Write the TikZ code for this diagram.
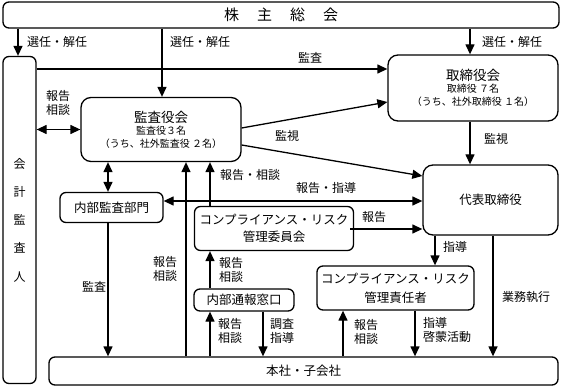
\documentclass[tikz,border=0pt]{standalone}
\usepackage{fontspec}
\setmainfont{Noto Sans CJK JP}
\usetikzlibrary{arrows.meta}
\begin{document}
\begin{tikzpicture}[x=1pt,y=-1pt,
  box/.style={draw, line width=1.3pt, rounded corners=6pt, inner sep=0pt, align=center, font=\fontsize{12.5}{17}\selectfont},
  bigbox/.style={box, rounded corners=10pt},
  lab/.style={font=\fontsize{12}{14}\selectfont, align=left, inner sep=0pt},
  ttl/.style={font=\fontsize{13.5}{14}\selectfont, inner sep=0pt},
  sub/.style={font=\fontsize{10}{12}\selectfont, inner sep=0pt},
  arr/.style={line width=1.3pt, -{Triangle[length=10pt,width=9pt]}},
  darr/.style={line width=1.3pt, {Triangle[length=10pt,width=9pt]}-{Triangle[length=10pt,width=9pt]}},
  ln/.style={line width=1.3pt}]
\useasboundingbox (0,0) rectangle (567,387);

% boxes
\node[box, minimum width=556pt, minimum height=26pt, font=\fontsize{15}{15}\selectfont] (sh) at (281,15) {株\hspace{18pt}主\hspace{18pt}総\hspace{18pt}会};
\node[box, minimum width=33pt, minimum height=327pt, font=\fontsize{12}{28.3}\selectfont] (ka) at (19.5,220) {会\\計\\監\\査\\人};
\node[bigbox, minimum width=160pt, minimum height=64pt] (kan) at (161,129.5) {};
\node[ttl] (kanT) at (161,117) {監査役会};
\node[sub] (kanS) at (161,131) {監査役３名};
\node[sub] (kanU) at (161,144) {（うち、社外監査役 ２名）};
\node[bigbox, minimum width=170pt, minimum height=66pt] (tori) at (473,88) {};
\node[ttl] (toriT) at (473,75) {取締役会};
\node[sub] (toriS) at (473,89) {取締役 ７名};
\node[sub] (toriU) at (473,102) {（うち、社外取締役 １名）};
\node[bigbox, minimum width=135pt, minimum height=70pt] (dai) at (490.5,200) {代表取締役};
\node[box, minimum width=103pt, minimum height=30pt] (nai) at (111.5,207.5) {内部監査部門};
\node[box, minimum width=159pt, minimum height=44pt] (iin) at (274,228.5) {コンプライアンス・リスク\\管理委員会};
\node[box, minimum width=100pt, minimum height=22pt] (mado) at (244,300) {内部通報窓口};
\node[box, minimum width=157pt, minimum height=44pt, font=\fontsize{12.5}{19}\selectfont] (seki) at (395.5,288) {コンプライアンス・リスク\\管理責任者};
\node[box, minimum width=509pt, minimum height=28pt] (hon) at (303.5,371) {本社・子会社};

% helper coordinates
\coordinate (y69) at (0,69);
\coordinate (y102) at (0,102);
\coordinate (y128) at (0,128);
\coordinate (y145) at (0,145);
\coordinate (y176) at (0,176);
\coordinate (y201) at (0,201);
\coordinate (y229) at (0,229);
\coordinate (x108) at (108,0);
\coordinate (x186) at (186,0);
\coordinate (x210) at (210,0);
\coordinate (x263) at (263,0);
\coordinate (x343) at (343,0);
\coordinate (x350) at (350,0);
\coordinate (x415) at (415,0);
\coordinate (x435) at (435,0);
\coordinate (x470) at (470,0);
\coordinate (x493) at (493,0);
\coordinate (x18) at (18,0);
\coordinate (x162) at (162,0);

% connectors
\draw[arr] (sh.south -| x18) -- (ka.north -| x18);
\draw[arr] (sh.south -| x162) -- (kan.north -| x162);
\draw[arr] (sh.south -| x470) -- (tori.north -| x470);
\draw[arr] (ka.east |- y69) -- (tori.west |- y69);
\draw[darr] (ka.east |- kan.west) -- (kan.west);
\draw[arr] (kan.east |- y128) -- (tori.west |- y102);
\draw[arr] (kan.east |- y145) -- (dai.west |- y176);
\draw[arr] (tori.south -| x470) -- (dai.north -| x470);
\draw[darr] (kan.south -| x108) -- (nai.north -| x108);
\draw[darr] (nai.east |- y201) -- (dai.west |- y201);
\draw[arr] (hon.north -| x186) -- (kan.south -| x186);
\draw[arr] (iin.north -| x210) -- (kan.south -| x210);
\draw[arr] (iin.south -| x350) ++(0,-21.5) coordinate (iinR) (iinR |- y229) -- (dai.west |- y229);
\draw[arr] (mado.north -| x210) -- (iin.south -| x210);
\draw[arr] (hon.north -| x210) -- (mado.south -| x210);
\draw[arr] (mado.south -| x263) -- (hon.north -| x263);
\draw[arr] (dai.south -| x435) -- (seki.north -| x435);
\draw[arr] (hon.north -| x343) -- (seki.south -| x343);
\draw[arr] (seki.south -| x415) -- (hon.north -| x415);
\draw[arr] (dai.south -| x493) -- (hon.north -| x493);
\draw[arr] (nai.south -| x108) -- (hon.north -| x108);

% labels
\node[lab, anchor=west] (l1) at (27,42) {選任・解任};
\node[lab, anchor=west] (l2) at (170,42) {選任・解任};
\node[lab, anchor=west] (l3) at (482,42) {選任・解任};
\node[lab] (l4) at (310,58) {監査};
\node[lab, align=center] (l5) at (58,103) {報告\\相談};
\node[lab] (l6) at (287,136) {監視};
\node[lab] (l7) at (496,139) {監視};
\node[lab, anchor=west] (l8) at (220,175) {報告・相談};
\node[lab] (l9) at (326,188) {報告・指導};
\node[lab, anchor=west] (l10) at (362,217) {報告};
\node[lab, align=center] (l11) at (165,268.5) {報告\\相談};
\node[lab, anchor=west] (l12) at (219,269.5) {報告\\相談};
\node[lab, anchor=west] (l13) at (218,331) {報告\\相談};
\node[lab, anchor=west] (l14) at (270,331) {調査\\指導};
\node[lab] (l15) at (94,287) {監査};
\node[lab, anchor=west] (l16) at (443,247) {指導};
\node[lab, anchor=west] (l17) at (354,332) {報告\\相談};
\node[lab, anchor=west] (l18) at (423,330) {指導\\啓蒙活動};
\node[lab, anchor=west] (l19) at (502,297) {業務執行};
\end{tikzpicture}
\end{document}
